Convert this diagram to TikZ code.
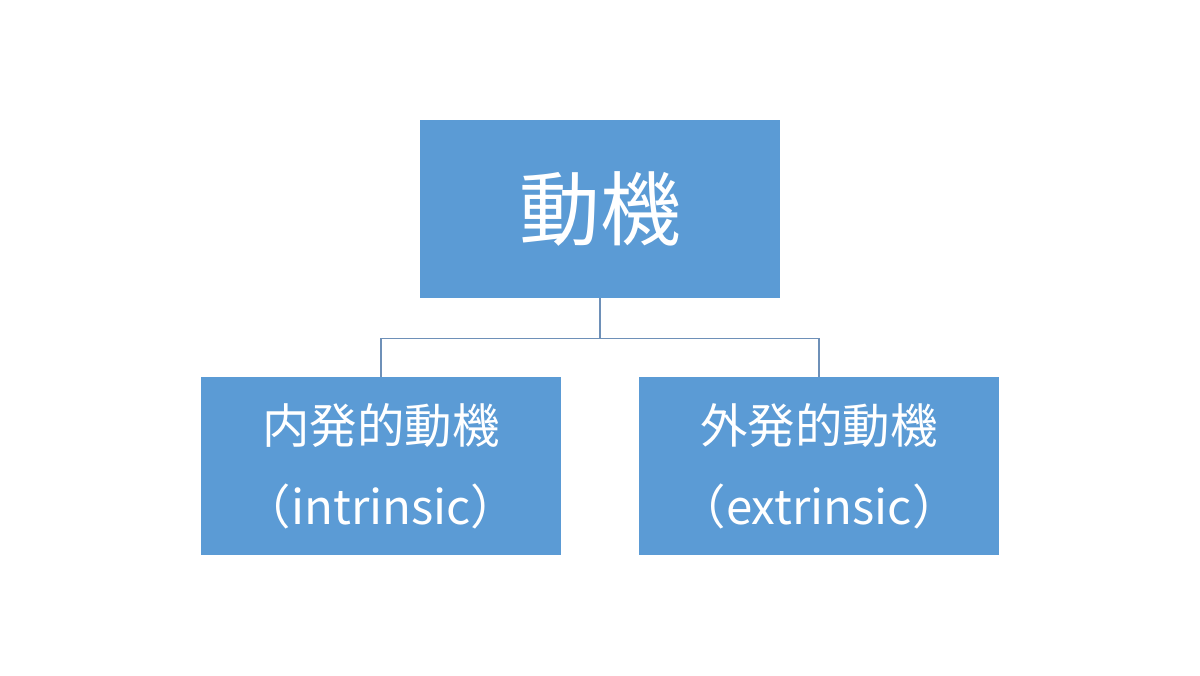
\documentclass[tikz,border=0pt]{standalone}
\usepackage{fontspec}
\newfontfamily\cjk{Noto Sans CJK JP}
\definecolor{boxblue}{HTML}{5B9BD5}
\definecolor{linkblue}{HTML}{6E90B8}
\tikzset{
  motivebox/.style={fill=boxblue,text=white,minimum width=7.2cm,minimum height=3.56cm,inner sep=0pt,align=center,font=\cjk},
  link/.style={linkblue,line width=0.6pt}
}
\begin{document}
\begin{tikzpicture}
  \useasboundingbox (0,0) rectangle (24,13.5);
  \node[motivebox,font=\cjk\fontsize{46}{50}\selectfont] (motive) at (12,9.32) {動機};
  \node[motivebox,font=\cjk\fontsize{27}{46}\selectfont] (intrinsic) at (7.62,4.18) {内発的動機\\（intrinsic）};
  \node[motivebox,font=\cjk\fontsize{27}{46}\selectfont] (extrinsic) at (16.38,4.18) {外発的動機\\（extrinsic）};
  \draw[link] (motive.south) -- ++(0,-0.8) -| (intrinsic.north);
  \draw[link] (motive.south) -- ++(0,-0.8) -| (extrinsic.north);
\end{tikzpicture}
\end{document}
